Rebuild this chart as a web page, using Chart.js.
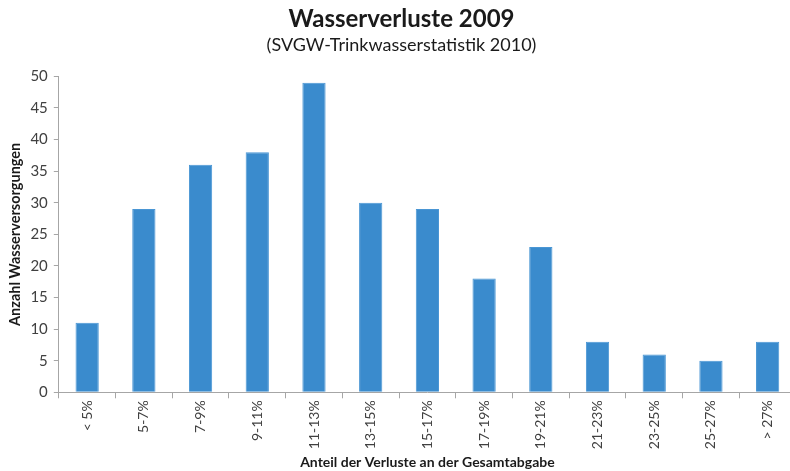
<!DOCTYPE html>
<html>
<head>
<meta charset="utf-8">
<script src="https://cdn.jsdelivr.net/npm/chart.js@4/dist/chart.umd.min.js"></script>
<style>
  html, body { margin: 0; padding: 0; background: #fff; overflow: hidden; }
  #wrap { width: 796px; height: 471px; }
</style>
</head>
<body>
<div id="wrap"><canvas id="c" width="796" height="471"></canvas></div>
<script>
// ── data ─────────────────────────────────────────────────────────────────────
const categories = ["< 5%", "5-7%", "7-9%", "9-11%", "11-13%", "13-15%", "15-17%",
                    "17-19%", "19-21%", "21-23%", "23-25%", "25-27%", "> 27%"]
const counts     = [11, 29, 36, 38, 49, 30, 29, 18, 23, 8, 6, 5, 8]
const yTicks     = [0, 5, 10, 15, 20, 25, 30, 35, 40, 45, 50]

const FONT = "Lato, 'Open Sans', sans-serif"
const AXIS = "#a6a6a6"
const TEXT = "#404040"

new Chart(document.getElementById("c"), {
  type: "bar",
  data: {
    labels: categories,
    datasets: [{
      label: "Anzahl",
      data: counts,
      backgroundColor: "#3a8bcd",
      borderColor: "#4a96d4",
      borderWidth: 1,
      barPercentage: 0.41,
      categoryPercentage: 1
    }]
  },
  options: {
    responsive: false,
    animation: false,
    layout: { padding: { left: 7, right: 0, top: 0, bottom: 0 } },
    plugins: {
      legend: { display: false },
      tooltip: { enabled: false },
      title: {
        display: true,
        text: "Wasserverluste 2009",
        color: "#1a1a1a",
        font: { family: FONT, size: 24, weight: "bold" },
        padding: { top: 5, bottom: 1 }
      },
      subtitle: {
        display: true,
        text: "(SVGW-Trinkwasserstatistik 2010)",
        color: "#1a1a1a",
        font: { family: FONT, size: 18 },
        padding: { top: 0, bottom: 20 }
      }
    },
    scales: {
      x: {
        offset: true,
        grid: { offset: true, drawOnChartArea: false, tickLength: 6, color: AXIS },
        border: { color: AXIS },
        ticks: {
          color: TEXT,
          font: { family: FONT, size: 14 },
          minRotation: 90, maxRotation: 90,
          padding: 2,
          autoSkip: false
        },
        title: {
          display: true,
          text: "Anteil der Verluste an der Gesamtabgabe",
          color: "#1a1a1a",
          font: { family: FONT, size: 14, weight: "bold" },
          padding: { top: 3, bottom: 0 }
        }
      },
      y: {
        min: 0, max: 50,
        afterBuildTicks: axis => { axis.ticks = yTicks.map(v => ({ value: v })) },
        grid: { drawOnChartArea: false, tickLength: 5, color: AXIS },
        border: { color: AXIS },
        ticks: {
          color: TEXT,
          font: { family: FONT, size: 15 },
          padding: 6
        },
        title: {
          display: true,
          text: "Anzahl Wasserversorgungen",
          color: "#1a1a1a",
          font: { family: FONT, size: 14.5, weight: "bold" },
          padding: { top: 0, bottom: 0 }
        }
      }
    }
  }
})
</script>
</body>
</html>
